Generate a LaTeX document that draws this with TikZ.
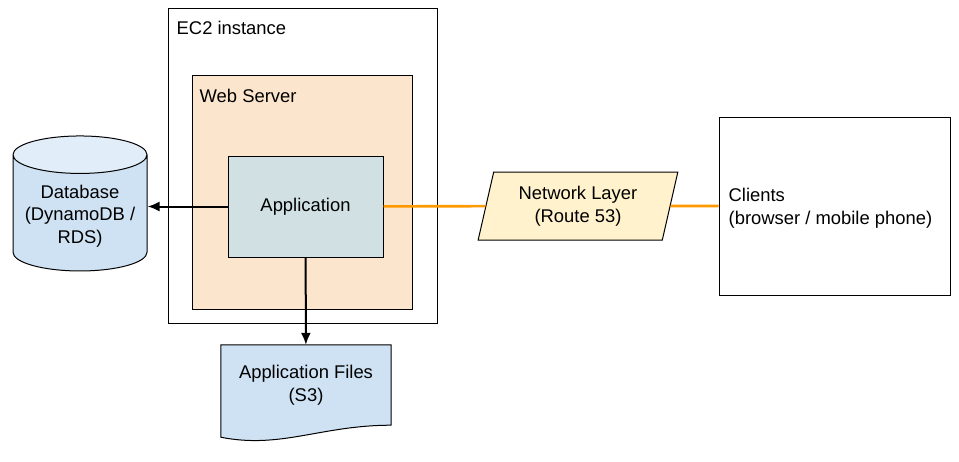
\documentclass[tikz,border=0pt]{standalone}
\usepackage{fontspec}
\setmainfont{Liberation Sans}
\usepackage{xcolor}
\usetikzlibrary{positioning, arrows.meta, shapes.geometric, backgrounds}

\definecolor{webfill}{HTML}{FCE5CD}
\definecolor{appfill}{HTML}{D0E0E3}
\definecolor{storefill}{HTML}{CFE2F3}
\definecolor{storetop}{HTML}{E1EDF8}
\definecolor{netfill}{HTML}{FFF2CC}
\definecolor{linkorange}{HTML}{FF9900}

\begin{document}
\begin{tikzpicture}[
    x=1pt, y=-1pt,
    every node/.style={font=\fontsize{18.4}{22.5}\selectfont},
    container/.style={rectangle, draw, line width=1pt, inner sep=0pt},
    label/.style={anchor=base west, inner sep=0pt},
    arrow/.style={-{Latex[length=12pt, width=10pt]}, line width=2pt},
    link/.style={draw=linkorange, line width=2.6pt}
]
    \useasboundingbox (0,0) rectangle (959,461);

    % Containers
    \node[container, minimum width=269pt, minimum height=315pt] (ec2) at (302.5,165.5) {};
    \node[label] (ec2label) at ([shift={(9,27)}]ec2.north west) {EC2 instance};
    \node[container, fill=webfill, minimum width=220pt, minimum height=234pt] (web) at (302,192) {};
    \node[label] (weblabel) at ([shift={(8,28)}]web.north west) {Web Server};

    % Components
    \node[container, fill=appfill, minimum width=155pt, minimum height=101pt] (app) at (305.5,206.5) {Application};
    \node[cylinder, draw, line width=1pt, shape border rotate=90, aspect=0.32,
          minimum width=134pt, minimum height=135pt, align=center,
          cylinder uses custom fill, cylinder body fill=storefill, cylinder end fill=storetop]
          (db) at (80,216) {Database\\(DynamoDB /\\RDS)};
    \node[rectangle, inner sep=0pt, minimum width=170pt, minimum height=80pt, align=center]
          (files) at (306,385) {Application Files\\(S3)};
    \node[trapezium, draw, line width=1pt, fill=netfill, trapezium stretches=true,
          trapezium left angle=76, trapezium right angle=104,
          minimum width=200pt, minimum height=68pt, align=center]
          (net) at (578,206) {Network Layer\\(Route 53)};
    \node[container, minimum width=231pt, minimum height=178pt] (clients) at (834.5,206) {};
    \node[anchor=west, inner sep=0pt, align=left] (clientslabel)
          at ([xshift=10pt, yshift=-2pt]clients.west) {Clients\\(browser / mobile phone)};

    % Document outline of the file store
    \begin{scope}[on background layer]
        \draw[line width=1pt, fill=storefill] (files.north west) -- (files.north east)
            -- (files.south east) .. controls +(-70,0) and +(60,12) .. ([yshift=-12pt]files.south west)
            -- cycle;
    \end{scope}

    % Arrows
    \draw[arrow] (app.west) -- (app.west -| db.east);
    \draw[arrow] (app) -- (files);
    \draw[link] (app) -- (net);
    \draw[link] (net) -- (clients);
\end{tikzpicture}
\end{document}
